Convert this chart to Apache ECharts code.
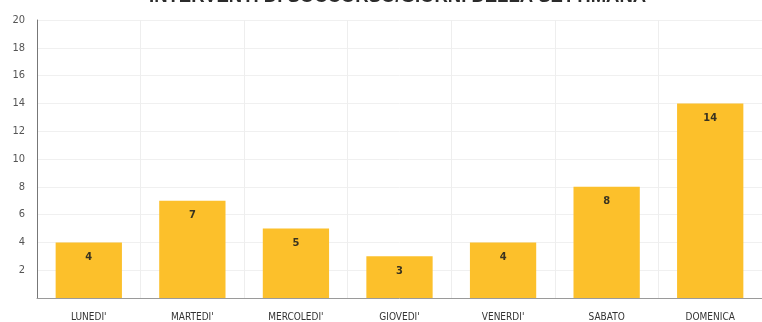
<!DOCTYPE html>
<html>
<head>
<meta charset="utf-8">
<script src="https://cdn.jsdelivr.net/npm/echarts@6/dist/echarts.min.js"></script>
<style>
  html, body { margin: 0; padding: 0; background: #ffffff; }
  #chart { width: 762px; height: 322px; }
</style>
</head>
<body>
<div id="chart"></div>
<script>
// Weekly rescue interventions by day of week
const days = ["LUNEDI'", "MARTEDI'", "MERCOLEDI'", "GIOVEDI'", "VENERDI'", "SABATO", "DOMENICA"];
const interventions = [4, 7, 5, 3, 4, 8, 14];
const yMin = 0;
const yMax = 20;
const yStep = 2;
const chartTitle = "INTERVENTI DI SOCCORSO/GIORNI DELLA SETTIMANA";

const narrow = "'DejaVu Sans Condensed', 'DejaVu Sans', sans-serif";

const chart = echarts.init(document.getElementById('chart'), null, { renderer: 'canvas' });

chart.setOption({
  animation: false,
  backgroundColor: '#ffffff',
  title: {
    text: chartTitle,
    left: 144,
    top: -18,
    textStyle: {
      fontFamily: 'Liberation Sans',
      fontWeight: 'bold',
      fontSize: 18.5,
      color: '#2b2b2b'
    }
  },
  grid: { left: 37, right: 0, top: 20, bottom: 24, containLabel: false },
  xAxis: {
    type: 'category',
    data: days,
    boundaryGap: true,
    axisLine: { show: true, lineStyle: { color: '#9a9a9a', width: 1 } },
    axisTick: { show: false },
    splitLine: { show: true, interval: 0, lineStyle: { color: '#eeeeee', width: 1 } },
    axisLabel: {
      interval: 0,
      margin: 14,
      fontFamily: narrow,
      fontSize: 10,
      color: '#333333'
    }
  },
  yAxis: {
    type: 'value',
    min: yMin,
    max: yMax,
    interval: yStep,
    axisLine: { show: true, lineStyle: { color: '#777777', width: 1 } },
    axisTick: { show: false },
    splitLine: { show: true, lineStyle: { color: '#f0f0f0', width: 1 } },
    axisLabel: {
      margin: 12,
      fontFamily: narrow,
      fontSize: 11,
      color: '#555555',
      formatter: function (v) { return v === 0 ? '' : String(v); }
    }
  },
  series: [{
    type: 'bar',
    data: interventions,
    barWidth: '64%',
    itemStyle: { color: '#FCC02B' },
    label: {
      show: true,
      position: 'insideTop',
      distance: 9,
      fontFamily: narrow,
      fontWeight: 'bold',
      fontSize: 11,
      color: '#3a3320'
    }
  }]
});
</script>
</body>
</html>
